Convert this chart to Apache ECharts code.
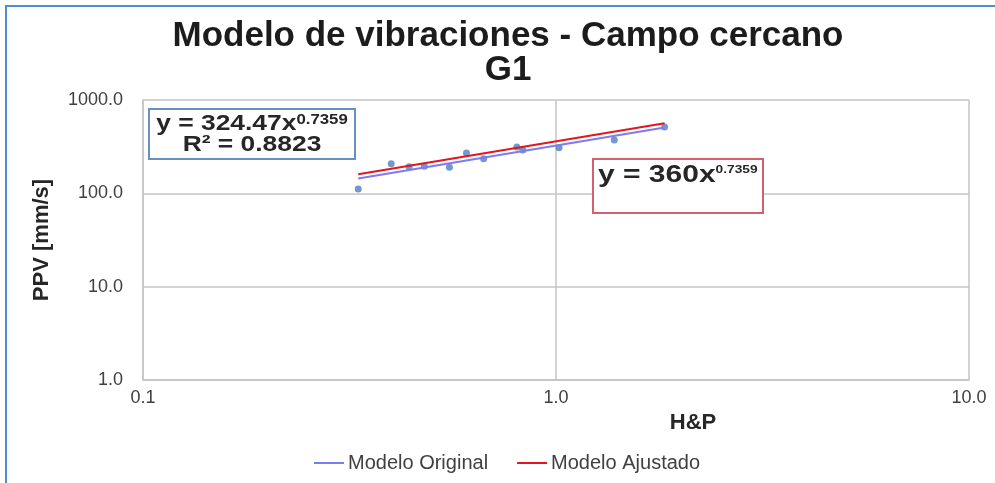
<!DOCTYPE html>
<html>
<head>
<meta charset="utf-8">
<script src="https://cdn.jsdelivr.net/npm/echarts@6/dist/echarts.min.js"></script>
<style>
  html, body { margin: 0; padding: 0; background: #fff; }
  #chart { width: 995px; height: 483px; }
</style>
</head>
<body>
<div id="chart"></div>
<script>
// Measured blasts: scaled distance (H&P) vs peak particle velocity (mm/s)
const hpValues  = [0.332, 0.399, 0.441, 0.480, 0.552, 0.607, 0.668, 0.804, 0.831, 1.017, 1.384, 1.832];
const ppvValues = [111, 207, 193, 195, 190, 271, 234, 314, 292, 307, 373, 515];

// Power-law models, drawn between the first and last measured H&P
const modelHP        = [0.332, 1.832];
const originalPPV    = [144.1, 506.6];   // y = 324.47 x^0.7359
const adjustedPPV    = [159.9, 562.1];   // y = 360 x^0.7359

const xTicks = [0.1, 1, 10];
const yTicks = [1, 10, 100, 1000];

const chart = echarts.init(document.getElementById('chart'));

const font = 'Liberation Sans, Arial, sans-serif';
const gridColor = '#c4c4c4';

chart.setOption({
  backgroundColor: '#ffffff',
  animation: false,
  title: {
    text: 'Modelo de vibraciones - Campo cercano\nG1',
    left: 503,
    textAlign: 'center',
    top: 14,
    textStyle: {
      fontFamily: font, fontSize: 35, fontWeight: 'bold',
      lineHeight: 34, color: '#1c1c1c'
    }
  },
  legend: {
    bottom: 5,
    left: 308,
    itemWidth: 30,
    itemHeight: 2,
    itemGap: 28,
    textStyle: { fontFamily: font, fontSize: 20, color: '#404040', padding: [0, 0, 0, -1] },
    data: ['Modelo Original', 'Modelo Ajustado']
  },
  grid: { left: 143, right: 26, top: 100, bottom: 103 },
  xAxis: {
    type: 'log',
    logBase: 10,
    min: xTicks[0],
    max: xTicks[xTicks.length - 1],
    name: 'H&P',
    nameLocation: 'middle',
    nameGap: 23,
    nameTextStyle: {
      fontFamily: font, fontSize: 22, fontWeight: 'bold', color: '#262626',
      padding: [0, 0, 0, 274]
    },
    axisLine: { show: true, lineStyle: { color: gridColor, width: 1.5 } },
    axisTick: { show: false },
    axisLabel: {
      fontFamily: font, fontSize: 18, color: '#404040', margin: 9,
      formatter: v => Number(v).toFixed(1)
    },
    splitLine: { show: true, lineStyle: { color: gridColor, width: 1.5 } },
    minorSplitLine: { show: false }
  },
  yAxis: {
    type: 'log',
    logBase: 10,
    min: yTicks[0],
    max: yTicks[yTicks.length - 1],
    name: 'PPV [mm/s]',
    nameLocation: 'middle',
    nameGap: 90,
    nameTextStyle: { fontFamily: font, fontSize: 22, fontWeight: 'bold', color: '#262626' },
    axisLine: { show: true, lineStyle: { color: gridColor, width: 1.5 } },
    axisTick: { show: false },
    axisLabel: {
      fontFamily: font, fontSize: 18, color: '#404040', margin: 20,
      formatter: v => Number(v).toFixed(1)
    },
    splitLine: { show: true, lineStyle: { color: gridColor, width: 1.5 } }
  },
  series: [
    {
      name: 'Mediciones',
      type: 'scatter',
      symbol: 'circle',
      symbolSize: 7,
      itemStyle: { color: '#4f7ec2' },
      data: hpValues.map((x, i) => [x, ppvValues[i]]),
      z: 3
    },
    {
      name: 'Modelo Original',
      type: 'line',
      symbol: 'none',
      lineStyle: { color: '#7b7cf2', width: 2 },
      itemStyle: { color: '#7b7cf2' },
      data: modelHP.map((x, i) => [x, originalPPV[i]]),
      z: 4
    },
    {
      name: 'Modelo Ajustado',
      type: 'line',
      symbol: 'none',
      lineStyle: { color: '#e3161e', width: 2 },
      itemStyle: { color: '#e3161e' },
      data: modelHP.map((x, i) => [x, adjustedPPV[i]]),
      z: 5
    }
  ],
  graphic: [
    // outer frame
    {
      type: 'rect', silent: true, z: 100,
      shape: { x: 6, y: 6, width: 1100, height: 600 },
      style: { fill: 'none', stroke: '#4f8fca', lineWidth: 2 }
    },
    // fitted-equation box
    {
      type: 'rect', z: 50,
      shape: { x: 149, y: 109, width: 206, height: 50 },
      style: { fill: '#ffffff', stroke: '#6891c2', lineWidth: 2 }
    },
    {
      type: 'text', z: 51,
      x: 252, y: 113,
      scaleX: 1.2,
      style: {
        text: '{m|y = 324.47x}{s|0.7359}\n{m|R² = 0.8823}',
        align: 'center',
        verticalAlign: 'top',
        fill: '#262626',
        rich: {
          m: { fontFamily: font, fontSize: 22, fontWeight: 'bold', lineHeight: 21, fill: '#262626' },
          s: { fontFamily: font, fontSize: 14, fontWeight: 'bold', lineHeight: 21, verticalAlign: 'top', fill: '#262626', padding: [0, 0, 8, 0] }
        }
      }
    },
    // adjusted-equation box
    {
      type: 'rect', z: 50,
      shape: { x: 593, y: 159, width: 170, height: 54 },
      style: { fill: '#ffffff', stroke: '#d2606e', lineWidth: 2 }
    },
    {
      type: 'text', z: 51,
      x: 598, y: 164,
      scaleX: 1.25,
      style: {
        text: '{m|y = 360x}{s|0.7359}',
        align: 'left',
        verticalAlign: 'top',
        fill: '#262626',
        rich: {
          m: { fontFamily: font, fontSize: 24, fontWeight: 'bold', lineHeight: 23, fill: '#262626' },
          s: { fontFamily: font, fontSize: 11, fontWeight: 'bold', lineHeight: 23, verticalAlign: 'top', fill: '#262626', padding: [0, 0, 10, 0] }
        }
      }
    }
  ]
});
</script>
</body>
</html>
